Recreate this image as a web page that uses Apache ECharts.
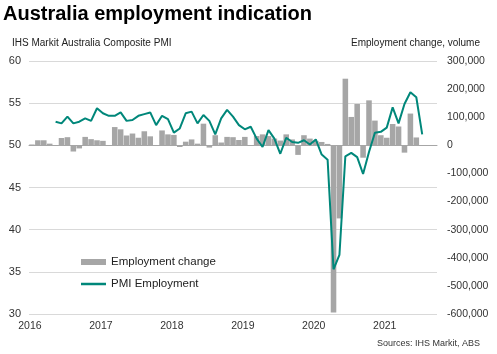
<!DOCTYPE html>
<html lang="en">

<head>
  <meta charset="UTF-8">
  <title>Australia employment indication</title>
  <style type="text/css">
    html, body { margin: 0; padding: 0; background: #fff; }
    #chart { width: 497px; height: 354px; }
  </style>
</head>

<body>
  <div id="chart"></div>
  <script src="https://cdn.jsdelivr.net/npm/echarts@6/dist/echarts.min.js"></script>
  <script type="text/javascript">

    // monthly categories, Jan 2016 .. Sep 2021
    var months = []
    for (var y = 2016; y <= 2021; y++) {
      for (var m = 1; m <= 12; m++) {
        if (y === 2021 && m > 9) break
        months.push(y + '-' + (m < 10 ? '0' + m : m))
      }
    }

    // IHS Markit Australia Composite PMI, employment index (left axis)
    var pmiEmployment = [
      null, null, null, null, 52.8, 52.6, 53.4, 52.6, 52.8, 53.2, 52.9, 54.4,
      53.8, 53.5, 53.5, 53.9, 52.9, 53.0, 53.5, 53.7, 53.9, 52.4, 53.5, 53.1,
      51.5, 52.0, 53.8, 54.0, 52.6, 53.6, 52.9, 51.3, 53.2, 54.2, 53.4, 52.4,
      51.9, 52.2, 50.8, 49.8, 51.8, 50.8, 49.0, 50.9, 50.4, 50.3, 50.6, 50.1,
      50.7, 48.9, 48.3, 35.3, 37.0, 48.7, 49.1, 48.6, 46.6, 49.2, 51.5, 51.6,
      52.1, 54.5, 52.6, 54.9, 56.3, 55.7, 51.3, null, null
    ]

    // ABS monthly employment change, volume (right axis)
    var employmentChange = [
      3000, 18000, 18000, 6000, 1000, 26000, 29000, -22000, -11000, 30000, 22000, 18000,
      16000, 1000, 65000, 57000, 35000, 42000, 27000, 50000, 32000, 1000, 53000, 39000,
      37000, -6000, 13000, 21000, 6000, 77000, -8000, 36000, 10000, 30000, 29000, 19000,
      30000, 1000, 33000, 39000, 33000, 24000, 17000, 39000, 21000, -34000, 36000, 24000,
      16000, 12000, 5000, -595000, -260000, 237000, 101000, 147000, -44000, 160000, 88000, 36000,
      27000, 76000, 67000, -26000, 113000, 28000, null, null, null
    ]

    var font = 'Liberation Sans, Arial, sans-serif'
    var teal = '#00877a'
    var grey = '#a6a6a6'

    var myChart = echarts.init(document.getElementById('chart'))

    function yearStart (index) {
      return index % 12 === 0
    }

    var option = {
      animation: false,
      textStyle: { fontFamily: font },
      title: [
        {
          text: 'Australia employment indication',
          left: 3, top: 4, padding: 0,
          textStyle: { fontSize: 20, fontWeight: 'bold', color: '#000', fontFamily: font }
        },
        {
          text: 'IHS Markit Australia Composite PMI',
          left: 12, top: 38, padding: 0,
          textStyle: { fontSize: 10, fontWeight: 'normal', color: '#222', fontFamily: font }
        },
        {
          text: 'Employment change, volume',
          right: 17, top: 38, padding: 0,
          textStyle: { fontSize: 10, fontWeight: 'normal', color: '#222', fontFamily: font }
        },
        {
          text: 'Sources: IHS Markit, ABS',
          right: 17, top: 339, padding: 0,
          textStyle: { fontSize: 9, fontWeight: 'normal', color: '#333', fontFamily: font }
        }
      ],
      legend: [
        {
          data: [{ name: 'Employment change', icon: 'rect' }],
          left: 81, top: 256, padding: 0,
          itemWidth: 25, itemHeight: 6, itemTextGap: 3,
          textStyle: { fontSize: 11.5, color: '#222', fontFamily: font }
        },
        {
          data: [{ name: 'PMI Employment', icon: 'rect' }],
          left: 81, top: 278, padding: 0,
          itemWidth: 25, itemHeight: 2.5, itemTextGap: 3,
          textStyle: { fontSize: 11.5, color: '#222', fontFamily: font }
        }
      ],
      grid: {
        left: 29,
        right: 60,
        top: 61,
        bottom: 40
      },
      xAxis: {
        type: 'category',
        data: months,
        boundaryGap: true,
        axisLine: { lineStyle: { color: grey, width: 1 } },
        axisTick: { interval: yearStart, length: 4, lineStyle: { color: grey } },
        axisLabel: {
          interval: yearStart,
          margin: 7,
          fontSize: 10.5,
          color: '#333',
          padding: [0, 4, 0, 0],
          formatter: function (value) { return value.slice(0, 4) }
        }
      },
      yAxis: [
        {
          type: 'value',
          min: 30, max: 60, interval: 5,
          axisLine: { show: false },
          axisTick: { show: false },
          axisLabel: { fontSize: 11, color: '#333', margin: 8 },
          splitLine: { lineStyle: { color: '#d9d9d9', width: 1 } }
        },
        {
          type: 'value',
          min: -600000, max: 300000, interval: 100000,
          axisLine: { show: false },
          axisTick: { show: false },
          splitLine: { show: false },
          axisLabel: {
            fontSize: 10.5, color: '#333', margin: 10,
            formatter: function (v) { return v.toLocaleString('en-US') }
          }
        }
      ],
      series: [
        {
          name: 'Employment change',
          type: 'bar',
          yAxisIndex: 1,
          data: employmentChange,
          barCategoryGap: '6%',
          itemStyle: { color: grey },
          z: 1
        },
        {
          name: 'PMI Employment',
          type: 'line',
          yAxisIndex: 0,
          data: pmiEmployment,
          symbol: 'none',
          lineStyle: { color: teal, width: 2 },
          itemStyle: { color: teal },
          z: 3
        }
      ]
    }

    myChart.setOption(option)
  </script>
</body>

</html>
